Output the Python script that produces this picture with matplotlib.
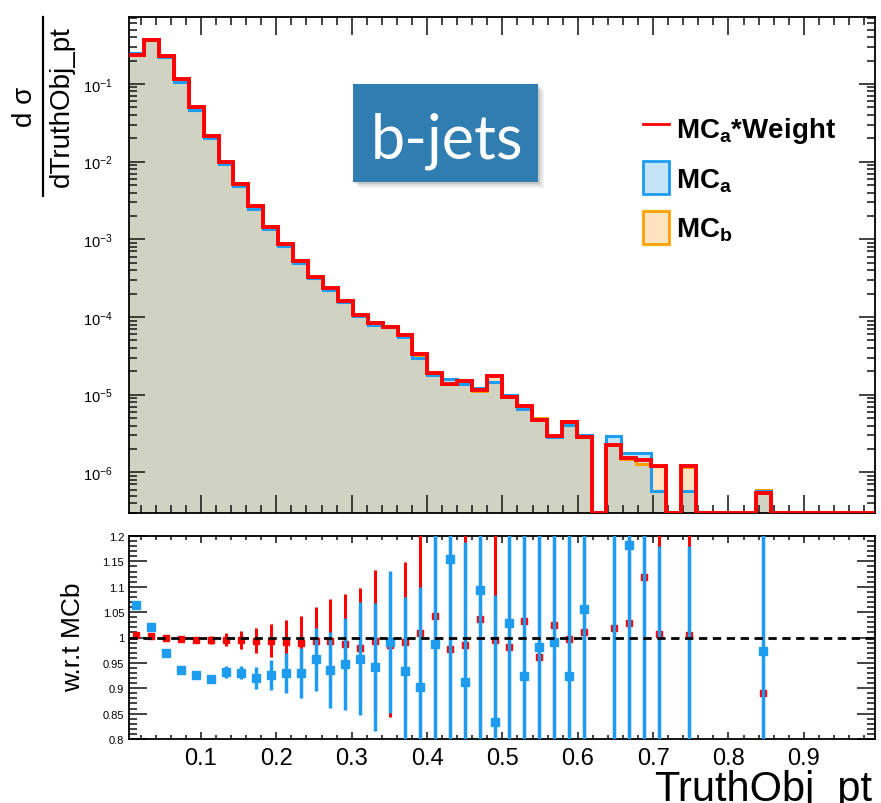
import numpy as np
import matplotlib
matplotlib.use("Agg")
import matplotlib.pyplot as plt
from matplotlib.patches import Rectangle, Patch
from matplotlib.lines import Line2D
from matplotlib.ticker import MultipleLocator, LogLocator, FuncFormatter, NullFormatter

plt.rcParams['font.family'] = ['Liberation Sans', 'DejaVu Sans']
plt.rcParams['mathtext.fontset'] = 'custom'
plt.rcParams['mathtext.rm'] = 'Liberation Sans'
plt.rcParams['mathtext.bf'] = 'Liberation Sans:bold'
plt.rcParams['mathtext.it'] = 'Liberation Sans:italic'

#---------------- binning ----------------#
x_lo, x_hi = 0.0045, 0.9945
n_bins = 50
edges = np.linspace(x_lo, x_hi, n_bins + 1)
centers = 0.5 * (edges[:-1] + edges[1:])
nan = np.nan

#---------------- histograms (d sigma / d pt) ----------------#
mc_a_weight = [0.236, 0.371, 0.232, 0.115, 0.050, 0.0216, 0.0099, 0.00516, 0.00267, 0.00146,
               8.7e-4, 5.3e-4, 3.3e-4, 2.37e-4, 1.61e-4, 1.05e-4, 8.3e-5, 7.5e-5, 5.9e-5, 3.3e-5,
               1.9e-5, 1.36e-5, 1.5e-5, 1.15e-5, 1.73e-5, 9.3e-6, 7.2e-6, 4.75e-6, 2.98e-6, 4.43e-6,
               2.89e-6, 0, 2.28e-6, 1.54e-6, 1.45e-6, 1.22e-6, 0, 1.2e-6, 0, 0,
               0, 0, 5.4e-7, 0, 0, 0, 0, 0, 0, 0]
mc_a = [0.251, 0.378, 0.225, 0.107, 0.0465, 0.0199, 0.0092, 0.00484, 0.00247, 0.00136,
        8.2e-4, 4.98e-4, 3.16e-4, 2.24e-4, 1.54e-4, 1.02e-4, 7.9e-5, 7.5e-5, 5.6e-5, 2.96e-5,
        1.8e-5, 1.6e-5, 1.39e-5, 1.21e-5, 1.45e-5, 9.8e-6, 6.5e-6, 4.85e-6, 2.87e-6, 4.1e-6,
        3.02e-6, 0, 2.98e-6, 1.77e-6, 1.77e-6, 5.8e-7, 0, 5.8e-7, 0, 0,
        0, 0, 5.8e-7, 0, 0, 0, 0, 0, 0, 0]
mc_b = [0.235, 0.370, 0.232, 0.115, 0.0503, 0.0217, 0.0099, 0.0052, 0.00269, 0.00147,
        8.8e-4, 5.36e-4, 3.32e-4, 2.39e-4, 1.63e-4, 1.07e-4, 8.4e-5, 7.6e-5, 6.0e-5, 3.28e-5,
        1.83e-5, 1.39e-5, 1.52e-5, 1.11e-5, 1.74e-5, 9.5e-6, 7.0e-6, 4.94e-6, 2.9e-6, 4.44e-6,
        2.86e-6, 0, 2.24e-6, 1.5e-6, 1.3e-6, 1.21e-6, 0, 1.19e-6, 0, 0,
        0, 0, 6.0e-7, 0, 0, 0, 0, 0, 0, 0]

#---------------- ratios w.r.t. MC_b ----------------#
ratio_weight = [1.004, 1.003, 0.999, 0.997, 0.995, 0.995, 0.996, 0.995, 0.994, 0.994,
                0.992, 0.989, 0.993, 0.993, 0.988, 0.980, 0.993, 0.985, 0.991, 1.009,
                1.043, 0.977, 0.985, 1.037, 0.995, 0.981, 1.033, 0.961, 1.025, 0.998,
                1.011, nan, 1.018, 1.029, 1.120, 1.007, nan, 1.005, nan, nan,
                nan, nan, 0.890, nan, nan, nan, nan, nan, nan, nan]
ratio_weight_err = [0.002, 0.002, 0.003, 0.004, 0.005, 0.007, 0.012, 0.017, 0.024, 0.032,
                    0.043, 0.054, 0.068, 0.082, 0.098, 0.118, 0.140, 0.142, 0.158, 0.25,
                    0.3, 0.3, 0.35, 0.35, 0.4, 0.4, 0.45, 0.45, 0.5, 0.5,
                    0.5, nan, 0.6, 0.6, 0.6, 0.7, nan, 0.7, nan, nan,
                    nan, nan, 0.9, nan, nan, nan, nan, nan, nan, nan]
ratio_a = [1.065, 1.020, 0.969, 0.936, 0.927, 0.918, 0.932, 0.931, 0.920, 0.926,
           0.930, 0.930, 0.957, 0.936, 0.948, 0.958, 0.942, 0.992, 0.934, 0.902,
           0.987, 1.155, 0.912, 1.093, 0.834, 1.028, 0.924, 0.982, 0.991, 0.925,
           1.056, nan, 1.32, 1.182, 1.34, 0.48, nan, 0.48, nan, nan,
           nan, nan, 0.973, nan, nan, nan, nan, nan, nan, nan]
ratio_a_err = [0.002, 0.002, 0.003, 0.003, 0.004, 0.005, 0.012, 0.013, 0.021, 0.030,
               0.040, 0.049, 0.062, 0.074, 0.091, 0.111, 0.126, 0.140, 0.146, 0.197,
               0.3, 0.4, 0.277, 0.4, 0.249, 0.4, 0.45, 0.45, 0.5, 0.5,
               0.5, nan, 0.6, 0.6, 0.6, 0.70, nan, 0.70, nan, nan,
               nan, nan, 0.9, nan, nan, nan, nan, nan, nan, nan]

#---------------- colours ----------------#
c_red = '#ff0000'
c_blue = '#1e9cf0'
c_orange = '#ffa000'
fill_both = '#d0d2c2'
fill_blue = '#c4e4f8'
fill_orange = '#ffe2bf'

W, H = 881, 804
fig = plt.figure(figsize=(W / 100, H / 100), dpi=100)

def fx(px):
    return px / W

def fy(py):
    return 1 - py / H

ax1 = fig.add_axes([fx(129), fy(514), fx(875) - fx(129), fy(18) - fy(514)])
ax2 = fig.add_axes([fx(129), fy(740), fx(875) - fx(129), fy(537) - fy(740)])

#-------------------------------------------#
#------------- upper panel -----------------#
#-------------------------------------------#
y_lo, y_hi = 3.0e-7, 0.727
a = np.array(mc_a)
b = np.array(mc_b)
w = np.array(mc_a_weight)

def floor(v):
    return np.where(v > 0, v, y_lo)

both = np.minimum(a, b)
ax1.stairs(floor(both), edges, baseline=y_lo, fill=True, color=fill_both, lw=0, zorder=1)
ax1.stairs(floor(a), edges, baseline=floor(both), fill=True, color=fill_blue, lw=0, zorder=1)
ax1.stairs(floor(b), edges, baseline=floor(both), fill=True, color=fill_orange, lw=0, zorder=1)
ax1.stairs(floor(b), edges, baseline=None, color=c_orange, lw=2.2, zorder=2)
ax1.stairs(floor(a), edges, baseline=None, color=c_blue, lw=2.2, zorder=2.2)
ax1.stairs(floor(w), edges, baseline=None, color=c_red, lw=2.8, zorder=3)

ax1.set_yscale('log')
ax1.set_xlim(x_lo, x_hi)
ax1.set_ylim(y_lo, y_hi)
ax1.xaxis.set_major_locator(MultipleLocator(0.1))
ax1.xaxis.set_minor_locator(MultipleLocator(0.02))
ax1.yaxis.set_major_locator(LogLocator(base=10, numticks=20))
ax1.yaxis.set_minor_locator(LogLocator(base=10, subs=np.arange(2, 10), numticks=20))
ax1.yaxis.set_minor_formatter(NullFormatter())
ax1.tick_params(which='both', direction='in', top=True, right=True, labelbottom=False,
                color='#222222', width=1.2)
ax1.tick_params(axis='x', which='major', length=13)
ax1.tick_params(axis='x', which='minor', length=6)
ax1.tick_params(axis='y', which='major', length=11.5, labelsize=10.5, pad=12)
ax1.tick_params(axis='y', which='minor', length=5.5)
for s in ax1.spines.values():
    s.set_linewidth(1.3)

# legend
handles = [Line2D([], [], color=c_red, lw=2),
           Patch(facecolor=fill_blue, edgecolor=c_blue, lw=2),
           Patch(facecolor=fill_orange, edgecolor=c_orange, lw=2)]
labels = [r'MC$_{\mathbf{a}}$*Weight', r'MC$_{\mathbf{a}}$', r'MC$_{\mathbf{b}}$']
fig.legend(handles, labels, loc='upper left', bbox_to_anchor=(fx(643), fy(112)),
           bbox_transform=fig.transFigure, frameon=False, borderpad=0, borderaxespad=0,
           handlelength=0.95, handleheight=1.45, labelspacing=0.6, handletextpad=0.25,
           prop={'weight': 'bold', 'size': 20})

# b-jets label box with a soft shadow
for i, al in enumerate([0.10, 0.08, 0.06]):
    off = 2 + 2 * i
    fig.add_artist(Rectangle((fx(353 + off), fy(183 + off)), fx(185), 98 / H,
                             transform=fig.transFigure, facecolor='black', alpha=al, lw=0))
fig.add_artist(Rectangle((fx(353), fy(183)), fx(185), 98 / H, transform=fig.transFigure,
                         facecolor='#2f7db1', lw=0))
fig.text(fx(447), fy(159), 'b-jets', color='white', fontsize=44, ha='center', va='baseline',
         family=['Lato', 'DejaVu Sans'], fontweight='normal')

# y axis title as a fraction
fig.add_artist(Line2D([fx(43), fx(43)], [fy(18), fy(197)], transform=fig.transFigure,
                      color='black', lw=1.6))
fig.text(fx(25), fy(107), 'd σ', rotation=90, ha='center', va='center', fontsize=20)
fig.text(fx(62), fy(107), 'dTruthObj_pt', rotation=90, ha='center', va='center', fontsize=20)

#-------------------------------------------#
#------------- ratio panel -----------------#
#-------------------------------------------#
ax2.errorbar(centers, ratio_weight, yerr=ratio_weight_err, fmt='s', color=c_red, ms=4.5,
             elinewidth=2.2, capsize=0, zorder=3)
ax2.errorbar(centers, ratio_a, yerr=ratio_a_err, fmt='s', color=c_blue, ms=5.2,
             elinewidth=2.5, capsize=0, zorder=4)
ax2.axhline(1.0, color='black', ls='--', lw=2, dashes=(3, 2), zorder=6)

ax2.set_xlim(x_lo, x_hi)
ax2.set_ylim(0.8, 1.2)
ax2.xaxis.set_major_locator(MultipleLocator(0.1))
ax2.xaxis.set_minor_locator(MultipleLocator(0.02))
ax2.yaxis.set_major_locator(MultipleLocator(0.05))
ax2.yaxis.set_minor_locator(MultipleLocator(0.01))
ax2.xaxis.set_major_formatter(FuncFormatter(lambda v, p: f'{v:.1f}'))
ax2.yaxis.set_major_formatter(FuncFormatter(lambda v, p: f'{v:.2f}'.rstrip('0').rstrip('.')))
ax2.tick_params(which='both', direction='in', top=True, right=True, color='#222222', width=1.2)
ax2.tick_params(axis='x', which='major', length=5, labelsize=17, pad=6)
ax2.tick_params(axis='x', which='minor', length=3)
ax2.tick_params(axis='y', which='major', length=13, labelsize=8, pad=3.5)
ax2.tick_params(axis='y', which='minor', length=5.5)
for s in ax2.spines.values():
    s.set_linewidth(1.3)

fig.text(fx(73), fy(637), 'w.r.t MCb', rotation=90, ha='center', va='center', fontsize=19)
fig.text(fx(872), fy(801), 'TruthObj_pt', ha='right', va='baseline', fontsize=30)

plt.savefig('out.png', dpi=100)
